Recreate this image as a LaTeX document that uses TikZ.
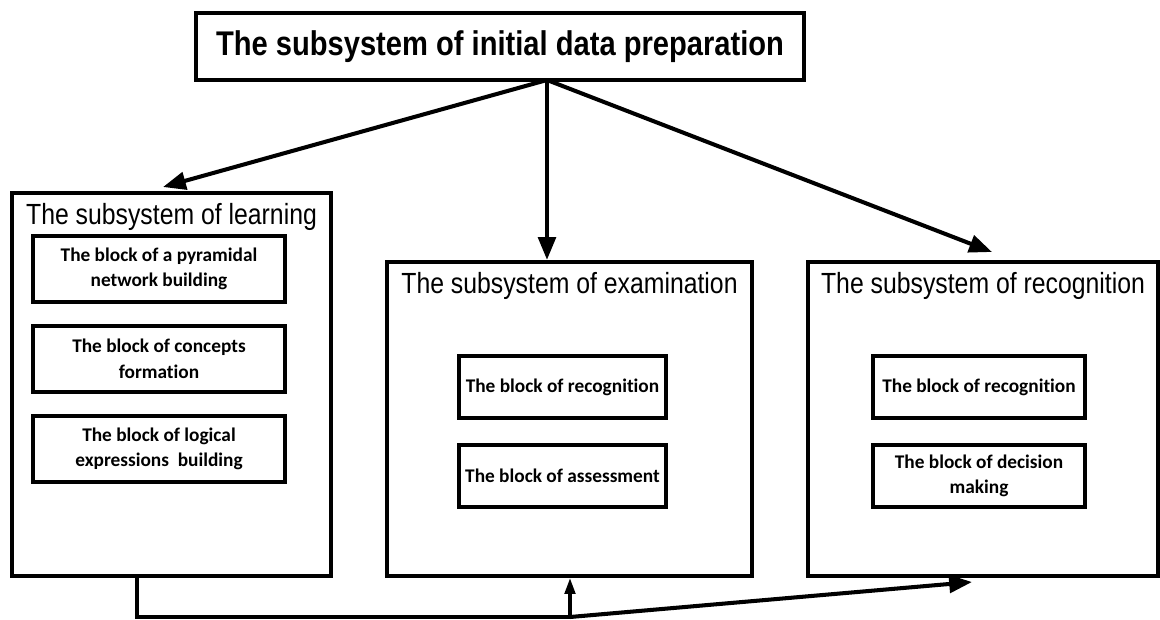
\documentclass[tikz,border=0pt]{standalone}
\usepackage{fontspec}
\setmainfont[Ligatures=NoCommon]{Carlito}
\newfontfamily\narrowsans[FakeStretch=0.85]{Liberation Sans}
\usetikzlibrary{arrows.meta}

\begin{document}
\begin{tikzpicture}[x=0.02cm,y=-0.02cm,
    frame/.style={draw,line width=2.4pt,inner sep=0pt},
    blockbox/.style={draw,line width=2.4pt,inner sep=0pt,align=center,
      font=\fontsize{11}{14.5}\selectfont\bfseries},
    subtitle/.style={anchor=north,font=\narrowsans\fontsize{16.6}{18}\selectfont},
    arr/.style={line width=2.3pt,-{Triangle[length=13pt,width=10pt]}},
    smallarr/.style={line width=1.8pt,-{Triangle[length=9pt,width=6pt]}}]
      \useasboundingbox (0,0) rectangle (1160,619);
      % top subsystem
      \node[frame,minimum width=608*0.02cm,minimum height=67*0.02cm,
        font=\narrowsans\bfseries\fontsize{19.5}{21}\selectfont] (prep) at (500,46.5)
        {The subsystem of initial data preparation};
      % three subsystems
      \node[frame,minimum width=319*0.02cm,minimum height=383*0.02cm] (learn) at (171.5,384.5) {};
      \node[frame,minimum width=365*0.02cm,minimum height=314*0.02cm] (exam) at (569.5,419) {};
      \node[frame,minimum width=350*0.02cm,minimum height=314*0.02cm] (recog) at (983,419) {};
      \node[subtitle] (learnT) at ([yshift=-3.5pt]learn.north) {The subsystem of learning};
      \node[subtitle] (examT) at ([yshift=-3.5pt]exam.north) {The subsystem of examination};
      \node[subtitle] (recogT) at ([yshift=-3.5pt]recog.north) {The subsystem of recognition};
      % blocks of learning
      \node[blockbox,minimum width=252*0.02cm,minimum height=66*0.02cm] (l1) at (159,269)
        {The block of a pyramidal\\network building};
      \node[blockbox,minimum width=252*0.02cm,minimum height=66*0.02cm] (l2) at (159,359)
        {The block of concepts\\formation};
      \node[blockbox,minimum width=252*0.02cm,minimum height=66*0.02cm] (l3) at (159,449)
        {The block of logical\\expressions\ \ building};
      % blocks of examination
      \node[blockbox,minimum width=207*0.02cm,minimum height=62*0.02cm] (e1) at (562.5,387)
        {The block of recognition};
      \node[blockbox,minimum width=207*0.02cm,minimum height=62*0.02cm] (e2) at (562.5,476)
        {The block of assessment};
      % blocks of recognition
      \node[blockbox,minimum width=212*0.02cm,minimum height=62*0.02cm] (r1) at (979,387)
        {The block of recognition};
      \node[blockbox,minimum width=212*0.02cm,minimum height=62*0.02cm] (r2) at (979,476)
        {The block of decision\\making};
      % connectors
      \coordinate (src) at (547,80);
      \coordinate (tipL) at (163,187);
      \coordinate (tipR) at (992,252);
      \draw[arr] (src) -- (tipL);
      \draw[arr] (src) -- (exam.north -| src);
      \draw[arr] (src) -- (tipR);
      \coordinate (lout) at (137,576);
      \coordinate (jn) at (570,617);
      \coordinate (tipB) at (972,582);
      \draw[line width=1.8pt] (lout) |- (jn);
      \draw[smallarr] (jn) -- (exam.south -| jn);
      \draw[arr] (jn) -- (tipB);
\end{tikzpicture}
\end{document}
